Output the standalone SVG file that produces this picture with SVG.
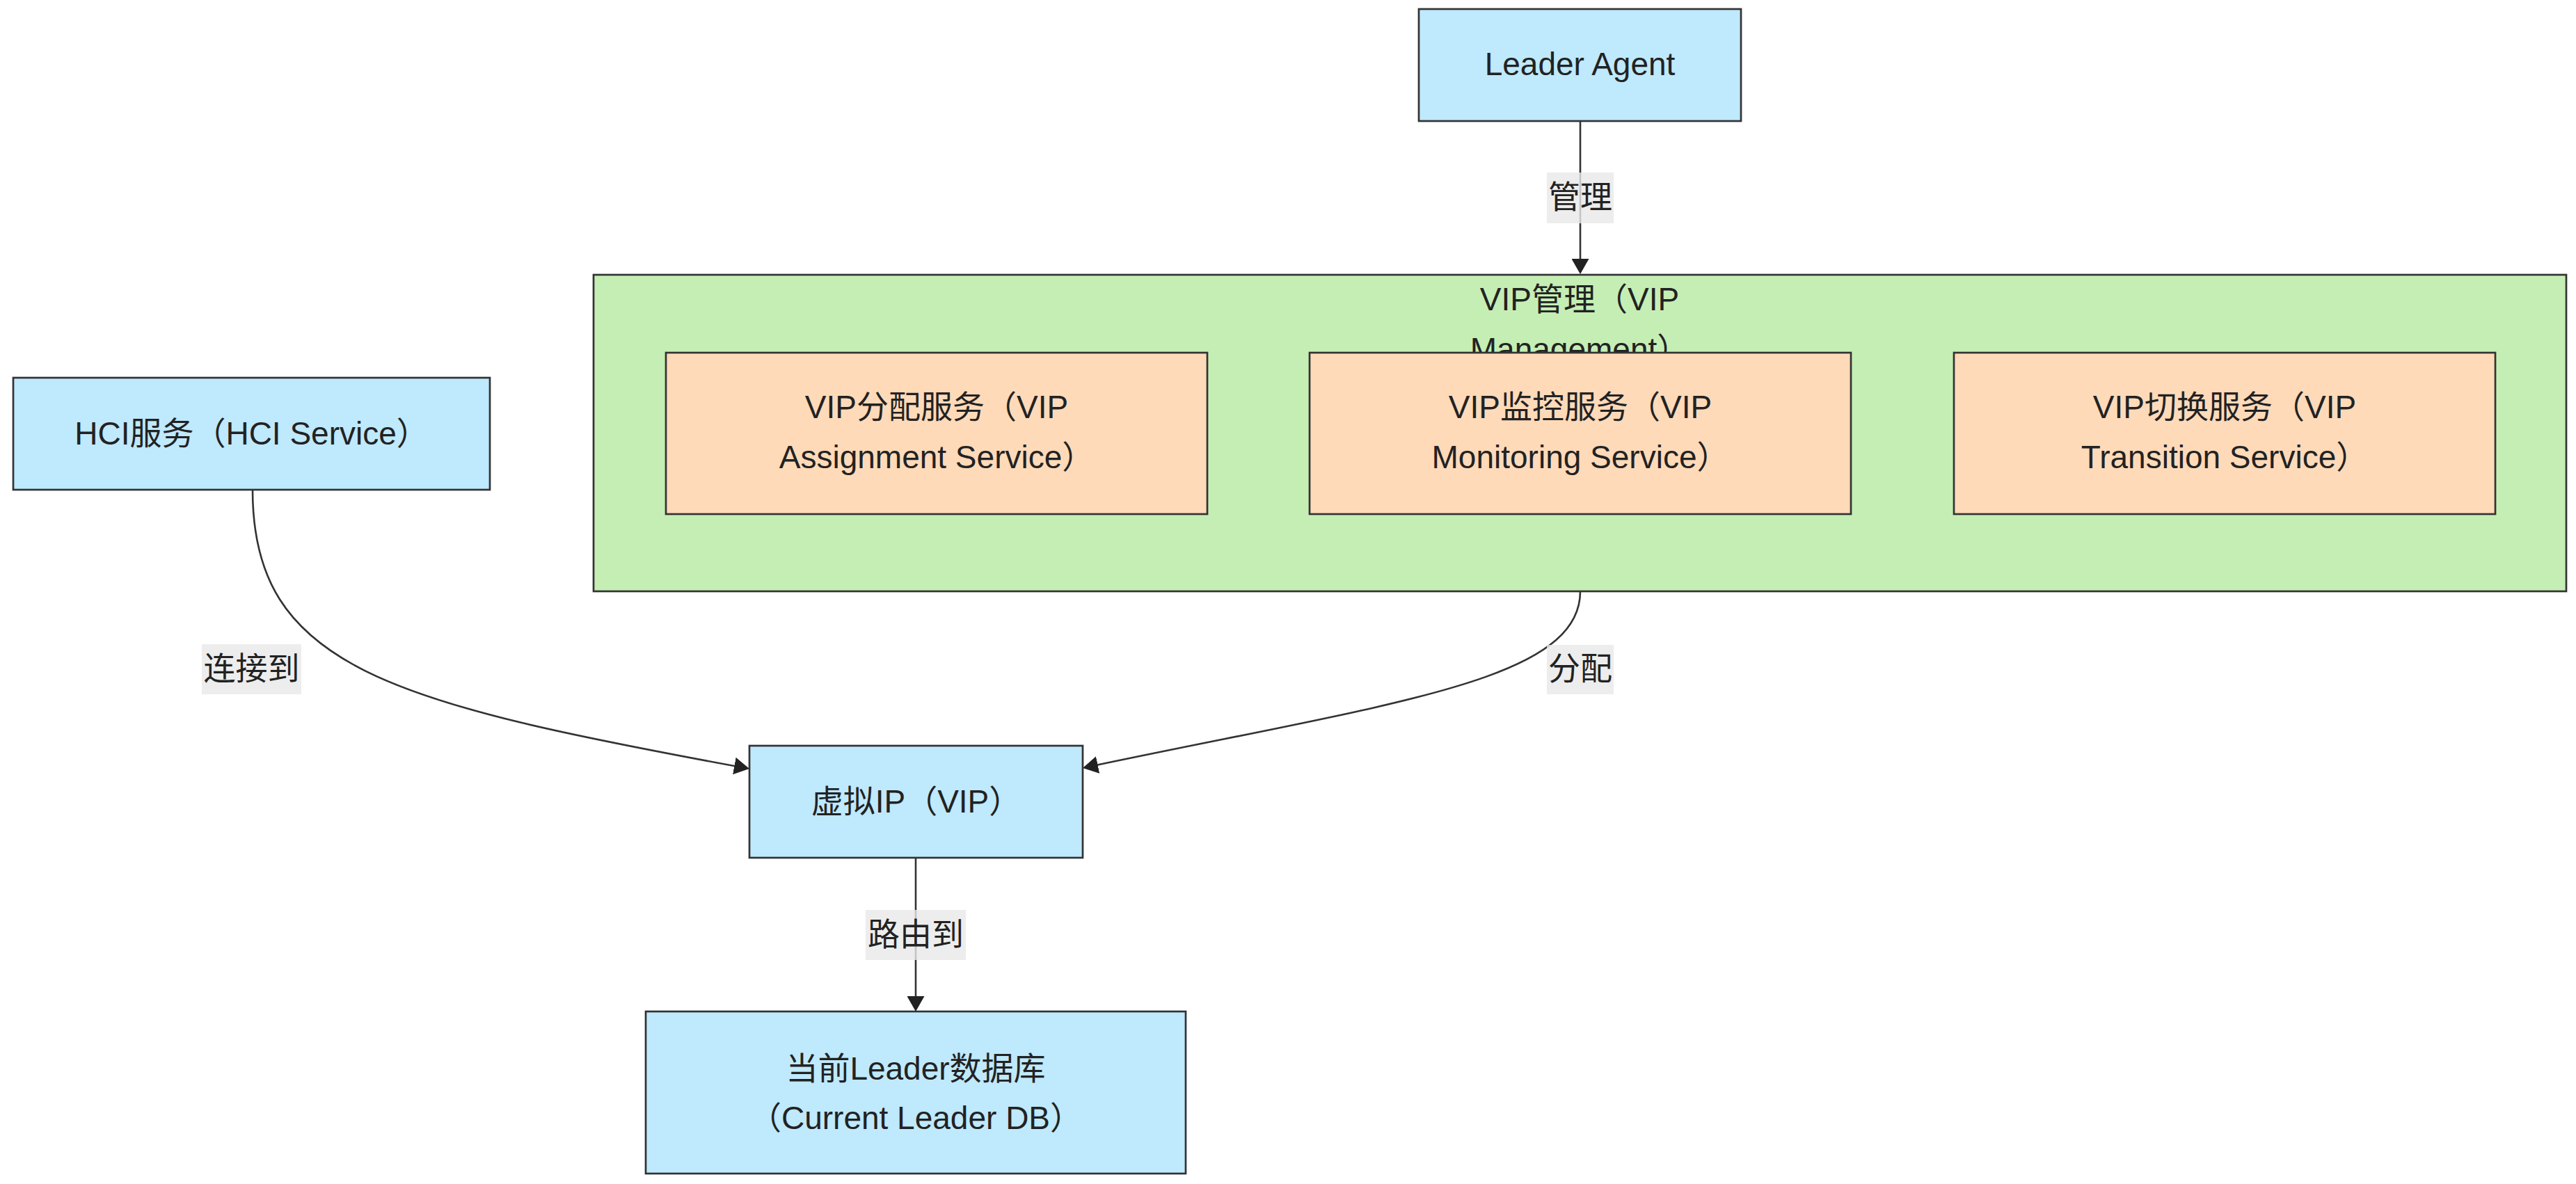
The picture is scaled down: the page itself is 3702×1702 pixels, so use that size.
<svg xmlns="http://www.w3.org/2000/svg" width="3702" height="1702" viewBox="0 0 3702 1702">
<defs>
<style>
.node rect{fill:#bfe9fd;stroke:#333;stroke-width:2.7}
.inner rect{fill:#ffdab9;stroke:#333;stroke-width:2.7}
.cluster rect{fill:#c5eeb5;stroke:#333;stroke-width:2.7}
text{font-family:"Liberation Sans","Noto Sans CJK SC",sans-serif;font-size:46px;fill:#222;text-anchor:middle}
.edge{fill:none;stroke:#333;stroke-width:2.6}
.lbl rect{fill:#e8e8e8;fill-opacity:0.8}
</style>
<marker id="arr" markerUnits="userSpaceOnUse" markerWidth="22" markerHeight="25" refX="19" refY="12.5" orient="auto">
<path d="M0,0 L22,12.5 L0,25 z" fill="#222"/>
</marker>
</defs>
<rect x="0" y="0" width="3702" height="1702" fill="#fff"/>

<g id="cluster-vip-management" class="cluster">
<rect x="853" y="395" width="2835" height="455"/>
<text x="2270" y="446">VIP管理（VIP</text>
<text x="2270" y="518">Management）</text>
</g>

<g id="node-leader-agent" class="node">
<rect x="2039" y="13" width="463" height="161"/>
<text x="2270.5" y="108">Leader Agent</text>
</g>

<g id="node-vip-assignment" class="inner">
<rect x="957" y="507" width="778" height="232"/>
<text x="1346" y="601">VIP分配服务（VIP</text>
<text x="1346" y="673">Assignment Service）</text>
</g>

<g id="node-vip-monitoring" class="inner">
<rect x="1882" y="507" width="778" height="232"/>
<text x="2271" y="601">VIP监控服务（VIP</text>
<text x="2271" y="673">Monitoring Service）</text>
</g>

<g id="node-vip-transition" class="inner">
<rect x="2808" y="507" width="778" height="232"/>
<text x="3197" y="601">VIP切换服务（VIP</text>
<text x="3197" y="673">Transition Service）</text>
</g>

<g id="node-hci-service" class="node">
<rect x="19" y="543" width="685" height="161"/>
<text x="361.5" y="639">HCI服务（HCI Service）</text>
</g>

<g id="node-vip" class="node">
<rect x="1077" y="1072" width="479" height="161"/>
<text x="1316.5" y="1168">虚拟IP（VIP）</text>
</g>

<g id="node-current-leader-db" class="node">
<rect x="928" y="1454" width="776" height="233"/>
<text x="1316" y="1552">当前Leader数据库</text>
<text x="1316" y="1623">（Current Leader DB）</text>
</g>

<g id="connectors">
<path class="edge" d="M2271,174 L2271,391" marker-end="url(#arr)"/>
<path class="edge" d="M363,704 C363,960 560,1010 1074,1104.5" marker-end="url(#arr)"/>
<path class="edge" d="M2271,850 C2271,980 2000,1010 1559,1103.4" marker-end="url(#arr)"/>
<path class="edge" d="M1316,1233 L1316,1451" marker-end="url(#arr)"/>
<g class="lbl">
<rect x="2223" y="248" width="96" height="73"/>
<text x="2271" y="299">管理</text>
<rect x="290" y="926" width="143" height="72"/>
<text x="361.5" y="977">连接到</text>
<rect x="2223" y="927" width="96" height="71"/>
<text x="2271" y="977">分配</text>
<rect x="1244" y="1308" width="144" height="72"/>
<text x="1316" y="1359">路由到</text>
</g>
</g>
</svg>
